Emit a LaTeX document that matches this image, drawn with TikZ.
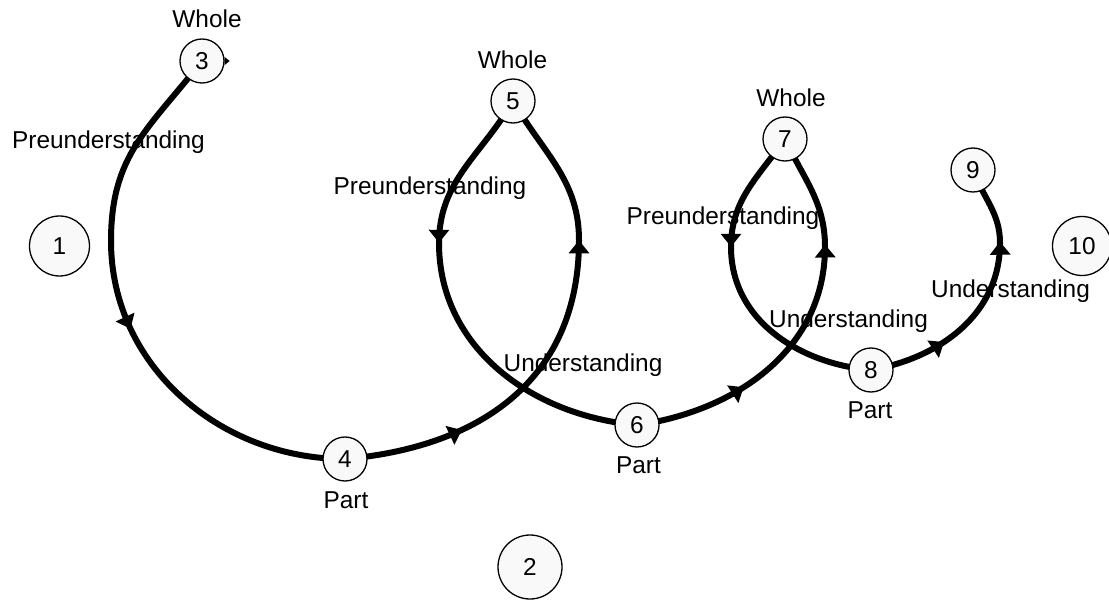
\documentclass[tikz,border=0pt]{standalone}
\usepackage{fontspec}
\setmainfont{Liberation Sans}
\usetikzlibrary{arrows.meta,decorations.markings}
\pgfdeclarelayer{bg}
\pgfsetlayers{bg,main}
\definecolor{nodefill}{HTML}{F9F9F9}

\begin{document}
\begin{tikzpicture}[x=0.5pt,y=0.5pt,
  font=\fontsize{12.2pt}{14pt}\selectfont,
  stage/.style={circle,draw,line width=0.65pt,fill=nodefill,inner sep=0pt,minimum size=22pt},
  bigstage/.style={stage,minimum size=30pt},
  lbl/.style={inner sep=0pt,anchor=base},
  spiral/.style={line width=3pt},
  headtip/.tip={Triangle[length=6.5pt,width=10pt]},
  tipone/.style={postaction={decorate},
    decoration={markings,mark=at position #1 with {\arrow{headtip}}}},
  tiptwo/.style 2 args={postaction={decorate},
    decoration={markings,
      mark=at position #1 with {\arrow{headtip}},
      mark=at position #2 with {\arrow{headtip}}}},
]
\useasboundingbox (0,0) rectangle (1109,601);

% stages of the circle
\node[bigstage] (n1) at (59.5,355) {1};
\node[stage,minimum size=32pt] (n2) at (530,34) {2};
\node[stage,minimum size=29.5pt] (n10) at (1082,355) {10};
\node[stage] (n3) at (202,540) {3};
\node[stage] (n4) at (345,142) {4};
\node[stage] (n5) at (513,500) {5};
\node[stage] (n6) at (637,176) {6};
\node[stage] (n7) at (785,462) {7};
\node[stage] (n8) at (871,231) {8};
\node[stage] (n9) at (973,431) {9};

% small tip on the right of stage 3
\fill (n3.east) ++(0,4) -- ++(5,-4) -- ++(-5,-4) -- cycle;

% turning points of the spiral
\coordinate (k1) at (111,360);
\coordinate (k2) at (579,361);
\coordinate (k3) at (439,358);
\coordinate (k4) at (825,354);
\coordinate (k5) at (731,354);
\coordinate (k6) at (1000,358);

\begin{pgfonlayer}{bg}
\draw[spiral,tipone=0.53] (n3.center) to[out=232,in=90,looseness=1.1] (k1)
      to[out=-90,in=180] (n4.center);
\draw[spiral,tiptwo={0.235}{0.695}] (n4.center) to[out=5,in=-90,looseness=1.1] (k2)
      to[out=90,in=-60] (n5.center);
\draw[spiral,tipone=0.355] (n5.center) to[out=-120,in=90] (k3)
      to[out=-90,in=175] (n6.center);
\draw[spiral,tiptwo={0.285}{0.715}] (n6.center) to[out=8,in=-90] (k4)
      to[out=90,in=-65] (n7.center);
\draw[spiral,tipone=0.375] (n7.center) to[out=-125,in=90] (k5)
      to[out=-90,in=175] (n8.center);
\draw[spiral,tiptwo={0.285}{0.72}] (n8.center) to[out=10,in=-90] (k6)
      to[out=90,in=-70] (n9.center);
\end{pgfonlayer}

% labels
\node[lbl] (w3) at (207,573) {Whole};
\node[lbl] (w5) at (512.5,532) {Whole};
\node[lbl] (w7) at (791,494) {Whole};
\node[lbl] (p3) at (108.5,452) {Preunderstanding};
\node[lbl] (p5) at (430,406) {Preunderstanding};
\node[lbl] (p7) at (723,377) {Preunderstanding};
\node[lbl] (t4) at (346,93) {Part};
\node[lbl] (t6) at (638.5,128) {Part};
\node[lbl] (t8) at (870,183) {Part};
\node[lbl] (u6) at (583,230) {Understanding};
\node[lbl] (u8) at (848.5,274) {Understanding};
\node[lbl] (u9) at (1010.5,304) {Understanding};
\end{tikzpicture}
\end{document}
